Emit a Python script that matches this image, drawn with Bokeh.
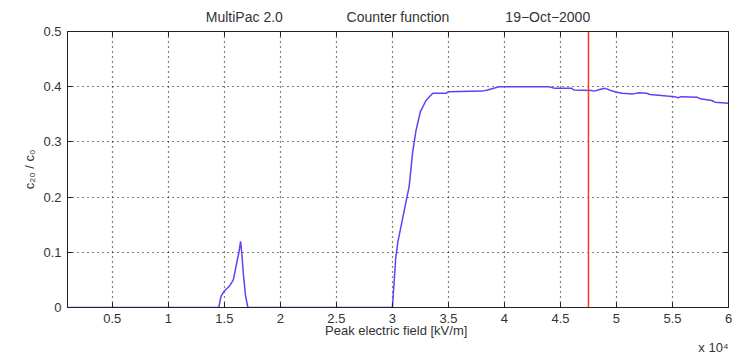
from bokeh.plotting import figure
from bokeh.models import (FixedTicker, LinearAxis, Range1d, Span, Grid, Title)
from bokeh.embed import file_html
from bokeh.resources import INLINE

# Data (x in units of 10^4 kV/m)
field = [0.1, 1.45, 1.47, 1.50, 1.55, 1.58, 1.60, 1.63, 1.645, 1.655, 1.67, 1.69, 1.71,
         3.00, 3.01, 3.02, 3.03, 3.05, 3.07, 3.09, 3.11, 3.13, 3.15, 3.18, 3.21, 3.25,
         3.30, 3.36, 3.48, 3.50, 3.80, 3.85, 3.92, 3.95, 4.40, 4.45, 4.60, 4.62, 4.78,
         4.80, 4.85, 4.90, 4.95, 5.00, 5.05, 5.15, 5.20, 5.27, 5.30, 5.45, 5.52, 5.55,
         5.58, 5.72, 5.75, 5.85, 5.88, 6.0]
counter = [0, 0, 0.02, 0.03, 0.04, 0.05, 0.07, 0.10, 0.12, 0.10, 0.06, 0.02, 0,
           0, 0.03, 0.06, 0.09, 0.12, 0.14, 0.16, 0.18, 0.20, 0.22, 0.28, 0.32, 0.355,
           0.375, 0.388, 0.388, 0.391, 0.392, 0.394, 0.398, 0.400, 0.400, 0.397, 0.397, 0.394, 0.393,
           0.392, 0.395, 0.397, 0.393, 0.390, 0.388, 0.387, 0.389, 0.388, 0.386, 0.383, 0.382, 0.380,
           0.382, 0.381, 0.378, 0.375, 0.372, 0.370]
marker_field = 4.75
x_ticks = [0.5, 1, 1.5, 2, 2.5, 3, 3.5, 4, 4.5, 5, 5.5, 6]
x_tick_labels = ["0.5", "1", "1.5", "2", "2.5", "3", "3.5", "4", "4.5", "5", "5.5", "6"]
y_ticks = [0, 0.1, 0.2, 0.3, 0.4, 0.5]
y_tick_labels = ["0", "0.1", "0.2", "0.3", "0.4", "0.5"]
title_parts = ["MultiPac 2.0", "Counter function", "19\u2212Oct\u22122000"]

FONT = "Liberation Sans"
TXT = "#333333"
FS = "13px"

p = figure(width=746, height=355, output_backend="svg", toolbar_location=None,
           x_range=Range1d(0.1, 6.0), y_range=Range1d(0, 0.5),
           min_border_left=67, min_border_right=18, min_border_top=31, min_border_bottom=48,
           x_axis_location=None, y_axis_location=None)
p.outline_line_color = "#222222"
p.outline_line_width = 1
p.background_fill_color = "white"
p.border_fill_color = "white"

gap1 = "\u2003" * 4 + "\u00a0" * 2
gap2 = "\u2003" * 4
p.title = Title(text=title_parts[0] + gap1 + title_parts[1] + gap2 + title_parts[2],
                align="center", text_font=FONT, text_font_size="14px",
                text_font_style="normal", text_color=TXT, standoff=13)

xa = LinearAxis(ticker=FixedTicker(ticks=x_ticks),
                major_label_overrides={t: l for t, l in zip(x_ticks, x_tick_labels)},
                axis_label="Peak electric field  [kV/m]")
ya = LinearAxis(ticker=FixedTicker(ticks=y_ticks),
                major_label_overrides={t: l for t, l in zip(y_ticks, y_tick_labels)},
                axis_label="c\u2082\u2080 / c\u2080")
for ax in (xa, ya):
    ax.major_tick_in = 5
    ax.major_tick_out = 0
    ax.minor_tick_in = 0
    ax.minor_tick_out = 0
    ax.axis_line_color = "#222222"
    ax.major_tick_line_color = "#222222"
    ax.major_label_text_font = FONT
    ax.major_label_text_font_size = FS
    ax.major_label_text_color = TXT
    ax.axis_label_text_font = FONT
    ax.axis_label_text_font_size = FS
    ax.axis_label_text_font_style = "normal"
    ax.axis_label_text_color = TXT
xa.axis_label_standoff = -3
xa.major_label_standoff = 6
ya.axis_label_standoff = 3
ya.major_label_standoff = 6
p.add_layout(xa, "below")
p.add_layout(ya, "left")

for loc, ticks in (("above", x_ticks), ("right", y_ticks)):
    ax = LinearAxis(ticker=FixedTicker(ticks=ticks),
                    major_label_overrides={t: "" for t in ticks})
    ax.major_tick_in = 5
    ax.major_tick_out = 0
    ax.minor_tick_in = 0
    ax.minor_tick_out = 0
    ax.major_label_standoff = 0
    ax.axis_line_color = "#222222"
    ax.major_tick_line_color = "#222222"
    p.add_layout(ax, loc)

p.add_layout(Title(text="x 10\u2074", align="right", text_font=FONT, text_font_size=FS,
                   text_font_style="normal", text_color=TXT, standoff=-5), "below")

p.grid.visible = False
gx = Grid(dimension=0, ticker=FixedTicker(ticks=x_ticks), grid_line_color="black",
          grid_line_dash="1 4", grid_line_width=1.2)
gy = Grid(dimension=1, ticker=FixedTicker(ticks=y_ticks), grid_line_color="black",
          grid_line_dash="1 4", grid_line_width=1.2)
p.add_layout(gx)
p.add_layout(gy)

p.line(field, counter, line_color="#6b3cf5", line_width=1.5)
p.add_layout(Span(location=marker_field, dimension="height", line_color="#f0401c", line_width=1.5))

open("out.html", "w").write(file_html(p, INLINE))
